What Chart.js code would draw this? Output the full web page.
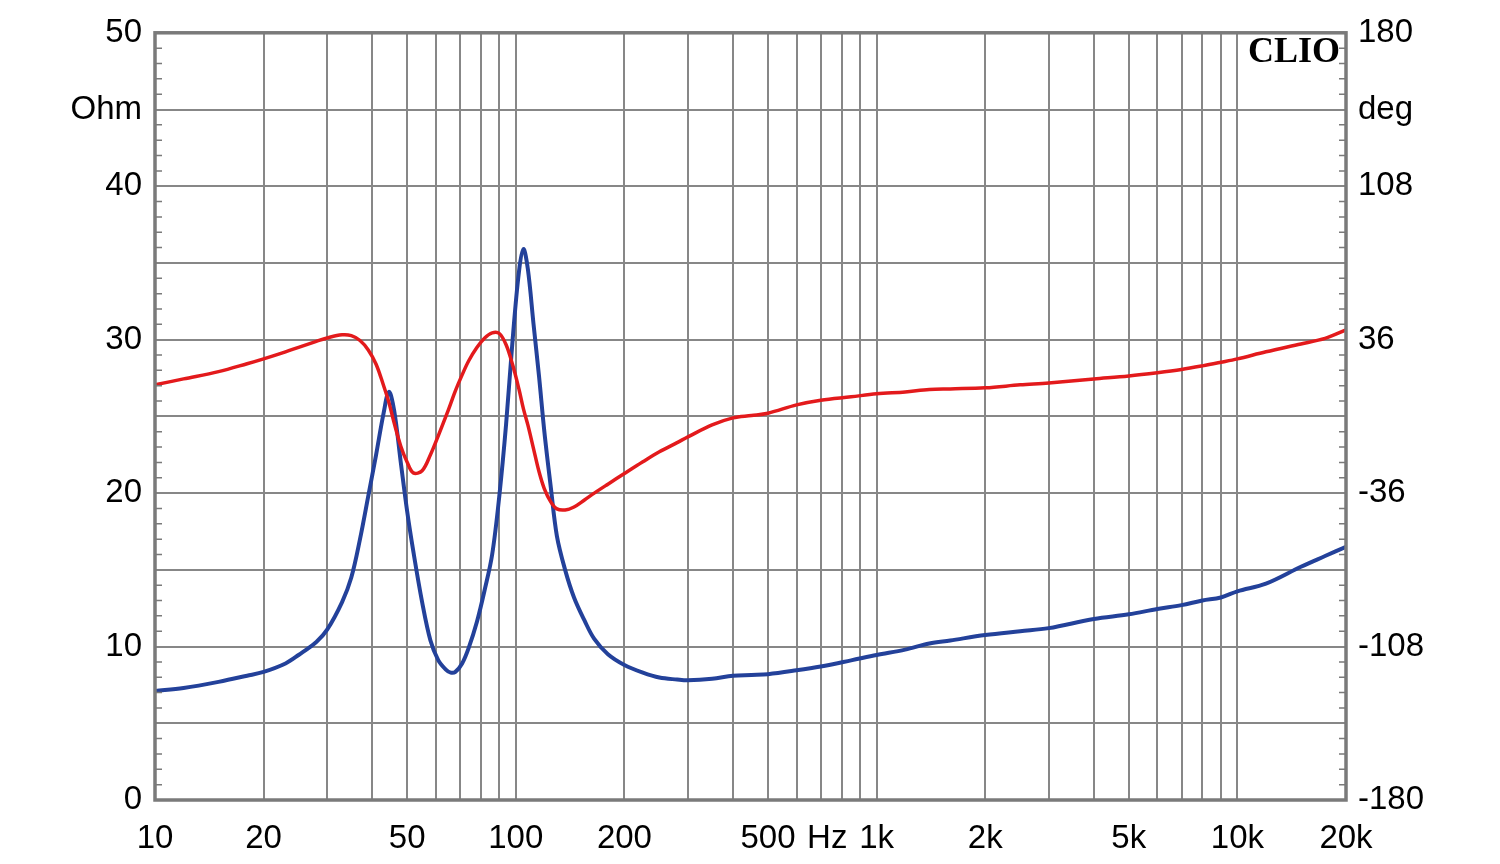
<!DOCTYPE html>
<html>
<head>
<meta charset="utf-8">
<script src="https://cdn.jsdelivr.net/npm/chart.js@4.4.1/dist/chart.umd.min.js"></script>
<style>
  html, body { margin: 0; padding: 0; background: #fff; }
</style>
</head>
<body>
<canvas id="myChart" width="1500" height="864"></canvas>
<script>
// frequency points (Hz)
const freqs = [10, 12, 15, 18, 20, 23, 25, 28, 30, 33,
  35, 37, 39, 41, 43, 44.5, 46, 48, 50, 52,
  55, 58, 61, 64, 66, 68, 71, 74, 78, 82,
  86, 90, 94, 98, 102, 105, 108, 112, 116, 120,
  125, 130, 137, 145, 155, 165, 180, 200, 225, 250,
  280, 300, 350, 400, 450, 500, 600, 700, 850, 1000,
  1200, 1400, 1600, 2000, 2500, 3000, 4000, 5000, 6000, 7000,
  8000, 9000, 10000, 12000, 15000, 17500, 20000];

// impedance magnitude (Ohm), left axis
const impedance = [7.1, 7.3, 7.7, 8.1, 8.35, 8.9, 9.45, 10.3, 11.1, 12.9,
  14.5, 17.0, 19.8, 22.5, 25.2, 26.6, 25.4, 22.0, 18.8, 16.2,
  12.9, 10.4, 9.1, 8.5, 8.3, 8.35, 8.9, 9.9, 11.6, 13.7,
  16.0, 19.8, 24.5, 30.0, 34.4, 35.9, 34.6, 31.0, 27.6, 24.0,
  20.4, 17.2, 15.0, 13.2, 11.7, 10.5, 9.5, 8.8, 8.3, 7.98,
  7.85, 7.8, 7.9, 8.1, 8.15, 8.2, 8.45, 8.7, 9.1, 9.45,
  9.8, 10.2, 10.4, 10.75, 11.0, 11.2, 11.8, 12.1, 12.45, 12.7,
  13.0, 13.2, 13.6, 14.1, 15.2, 15.9, 16.5];

// impedance phase (deg), right axis
const phase = [14.8, 17.6, 21, 24.7, 27, 30.3, 32.4, 35.2, 36.8, 38.3,
  37.9, 35.6, 31.2, 24.5, 14.5, 6.5, -3, -14, -21.5, -26.5,
  -25.5, -18, -9, 0, 6, 12, 19.5, 26, 32.3, 36.8,
  39.2, 38.9, 33.6, 24.2, 12.9, 3.5, -4, -15.2, -26, -34,
  -40.1, -43.4, -43.9, -42.5, -39.2, -36, -31.8, -26.8, -21.3, -16.6,
  -12.3, -9.6, -4, -0.7, 0.4, 1.5, 5.4, 7.6, 9.2, 10.6,
  11.5, 12.6, 12.9, 13.4, 14.8, 15.7, 17.6, 19, 20.5, 22,
  23.7, 25.4, 27, 30.3, 34, 36.6, 40.6];

// axis labels
const xLabels = {10: '10', 20: '20', 50: '50', 100: '100', 200: '200', 500: '500',
  1000: '1k', 2000: '2k', 5000: '5k', 10000: '10k', 20000: '20k'};
const hzTick = 730;          // where the "Hz" unit label sits
const ohmUnitAt = 45;        // "Ohm" label on the left axis
const degUnitAt = 144;       // "deg" label on the right axis

// grid positions 10,20..90,100,200..,20000
const xTicks = [];
[10, 100, 1000, 10000].forEach(d => {
  for (let m = 1; m <= 9; m++) {
    if (m * d <= 20000) xTicks.push(m * d);
  }
});
xTicks.push(hzTick);
xTicks.sort((a, b) => a - b);

const gridColor = '#878787';
const tickFont = { family: '"Liberation Sans", Arial, sans-serif', size: 33 };

const framePlugin = {
  id: 'frame',
  afterDraw(chart) {
    const { ctx, chartArea: a, scales } = chart;
    ctx.save();
    // minor ticks every 1 Ohm, inside the frame on both sides
    ctx.strokeStyle = '#7a7a7a';
    ctx.lineWidth = 1.5;
    for (let v = 1; v < 50; v++) {
      if (v % 5 === 0) continue;
      const y = scales.y.getPixelForValue(v);
      ctx.beginPath();
      ctx.moveTo(a.left, y); ctx.lineTo(a.left + 7, y);
      ctx.moveTo(a.right - 7, y); ctx.lineTo(a.right, y);
      ctx.stroke();
    }
    ctx.lineWidth = 3.5;
    ctx.strokeRect(a.left, a.top, a.right - a.left, a.bottom - a.top);
    // CLIO mark
    ctx.font = 'bold 36px "Liberation Serif", "Times New Roman", serif';
    ctx.fillStyle = '#000';
    ctx.textAlign = 'right';
    ctx.textBaseline = 'alphabetic';
    ctx.fillText('CLIO', a.right - 6, a.top + 29);
    ctx.restore();
  }
};

const myChart = new Chart('myChart', {
  type: 'line',
  data: {
    datasets: [
      {
        label: 'Phase',
        data: freqs.map((f, i) => ({ x: f, y: phase[i] })),
        yAxisID: 'y1',
        borderColor: '#e31a1c',
        borderWidth: 3.5,
        pointRadius: 0,
        tension: 0.35,
        order: 0
      },
      {
        label: 'Impedance',
        data: freqs.map((f, i) => ({ x: f, y: impedance[i] })),
        yAxisID: 'y',
        borderColor: '#23419a',
        borderWidth: 4,
        pointRadius: 0,
        tension: 0.35,
        order: 1
      }
    ]
  },
  options: {
    responsive: false,
    animation: false,
    layout: { padding: { top: 32, left: 0, right: 0, bottom: 0 } },
    plugins: { legend: { display: false }, tooltip: { enabled: false } },
    scales: {
      x: {
        type: 'logarithmic',
        min: 10,
        max: 20000,
        afterBuildTicks: (scale) => { scale.ticks = xTicks.map(v => ({ value: v })); },
        afterFit: (scale) => { scale.height = 64; },
        border: { display: false },
        grid: {
          color: (c) => (c.tick && c.tick.value === hzTick) ? 'rgba(0,0,0,0)' : gridColor,
          lineWidth: 2,
          drawTicks: false
        },
        ticks: {
          autoSkip: false,
          maxRotation: 0,
          padding: 19,
          color: '#000',
          font: tickFont,
          callback: (v) => v === hzTick ? 'Hz' : (xLabels[v] || '')
        }
      },
      y: {
        position: 'left',
        min: 0,
        max: 50,
        afterFit: (scale) => { scale.width = 155; },
        border: { display: false },
        grid: { color: gridColor, lineWidth: 2, drawTicks: false },
        ticks: {
          stepSize: 5,
          padding: 13,
          color: '#000',
          font: tickFont,
          callback: (v) => v === ohmUnitAt ? 'Ohm' : (v % 10 === 0 ? String(v) : '')
        }
      },
      y1: {
        position: 'right',
        min: -180,
        max: 180,
        afterFit: (scale) => { scale.width = 154; },
        border: { display: false },
        grid: { drawOnChartArea: false, drawTicks: false },
        ticks: {
          stepSize: 36,
          padding: 12,
          color: '#000',
          font: tickFont,
          callback: (v) => v === degUnitAt ? 'deg' : ((v + 180) % 72 === 0 ? String(v) : '')
        }
      }
    }
  },
  plugins: [framePlugin]
});
</script>
</body>
</html>
